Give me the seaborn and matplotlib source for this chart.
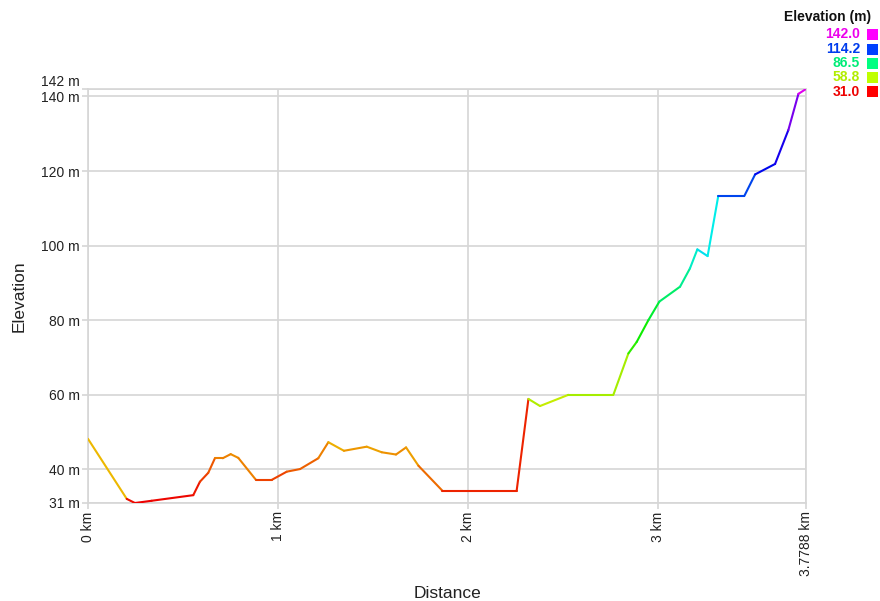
import colorsys
import numpy as np
import pandas as pd
import seaborn as sns
import matplotlib
matplotlib.use("Agg")
import matplotlib.pyplot as plt
from matplotlib.patches import Rectangle

# ---- data ----
dist_km = [0, 0.204, 0.247, 0.335, 0.554, 0.589, 0.633, 0.668, 0.709, 0.751, 0.791,
           0.884, 0.967, 1.046, 1.116, 1.212, 1.265, 1.347, 1.467, 1.546, 1.621,
           1.674, 1.739, 1.865, 2.256, 2.318, 2.379, 2.528, 2.765, 2.844, 2.888,
           2.949, 3.007, 3.116, 3.168, 3.207, 3.261, 3.317, 3.454, 3.511, 3.616,
           3.686, 3.739, 3.7788]
elev_m = [48.2, 32.1, 31.0, 31.6, 33.1, 36.7, 39.1, 43.0, 43.0, 44.1, 43.1,
          37.2, 37.2, 39.4, 40.1, 43.0, 47.3, 45.0, 46.1, 44.6, 44.0,
          45.9, 41.0, 34.3, 34.3, 58.9, 57.0, 60.0, 60.0, 71.1, 74.2,
          80.0, 85.0, 89.0, 93.9, 99.0, 97.2, 113.3, 113.3, 119.1, 121.9,
          131.0, 140.7, 142.0]
y_ticks = [31, 40, 60, 80, 100, 120, 140, 142]
x_ticks = [0, 1, 2, 3, 3.7788]
x_tick_labels = ["0 km", "1 km", "2 km", "3 km", "3.7788 km"]
legend_values = [142.0, 114.2, 86.5, 58.8, 31.0]

EMIN, EMAX = 31.0, 142.0


def elev_color(v, val=0.93):
    f = (v - EMIN) / (EMAX - EMIN)
    f = min(max(f, 0), 1)
    return colorsys.hsv_to_rgb(f * 300 / 360, 1.0, val)


sns.set_theme(style="white")
plt.rcParams["font.family"] = ["Liberation Sans", "DejaVu Sans"]

fig = plt.figure(figsize=(8.8, 6.01), dpi=100)
ax = fig.add_axes([88 / 880, 1 - 503 / 601, (806 - 88) / 880, (503 - 89) / 601])

rows = []
palette = {}
for i in range(len(dist_km) - 1):
    key = f"s{i}"
    rows.append((key, dist_km[i], elev_m[i]))
    rows.append((key, dist_km[i + 1], elev_m[i + 1]))
    palette[key] = elev_color(elev_m[i])
df = pd.DataFrame(rows, columns=["seg", "dist", "elev"])

sns.lineplot(data=df, x="dist", y="elev", hue="seg", palette=palette,
             estimator=None, sort=False, legend=False, linewidth=1.5, ax=ax, zorder=3)

ax.set_xlim(0, 3.7788)
ax.set_ylim(31, 142)
ax.set_yticks(y_ticks)
ax.set_yticklabels([f"{t} m" for t in y_ticks], fontsize=10, color="#222222")
for lbl, t in zip(ax.get_yticklabels(), y_ticks):
    if t == 142:
        lbl.set_va("bottom")
ax.set_xticks(x_ticks)
ax.set_xticklabels(x_tick_labels, rotation=90, fontsize=10, color="#222222",
                   va="top", ha="center")

grid_c = "#d6d6d6"
ax.grid(True, color=grid_c, linewidth=1.2, zorder=0)
ax.tick_params(axis="both", length=4, width=1.2, color=grid_c, pad=2,
               left=True, bottom=True)
for s in ax.spines.values():
    s.set_color(grid_c)
    s.set_linewidth(1.2)

ax.set_xlabel("Distance", fontsize=12.5, color="#222222", labelpad=8)
ax.set_ylabel("Elevation", fontsize=12.5, color="#222222", labelpad=10)
ax.xaxis.set_label_coords(0.5, -0.2)

# ---- elevation legend (top right) ----
fig.text(871 / 880, 1 - 17 / 601, "Elevation (m)", fontsize=10, fontweight="bold",
         ha="right", va="center", color="#111111")
row_y = [34.3, 49.0, 63.0, 77.3, 91.7]
for v, yy in zip(legend_values, row_y):
    c = elev_color(v)
    fig.text(860 / 880, 1 - yy / 601, f"{v:.1f}", fontsize=10, fontweight="bold",
             ha="right", va="center", color=c)
    fig.patches.append(Rectangle((867 / 880, 1 - (yy + 5.5) / 601), 11 / 880, 11 / 601,
                                 transform=fig.transFigure, facecolor=elev_color(v, 1.0),
                                 edgecolor="none"))

fig.savefig("out.png", dpi=100)
